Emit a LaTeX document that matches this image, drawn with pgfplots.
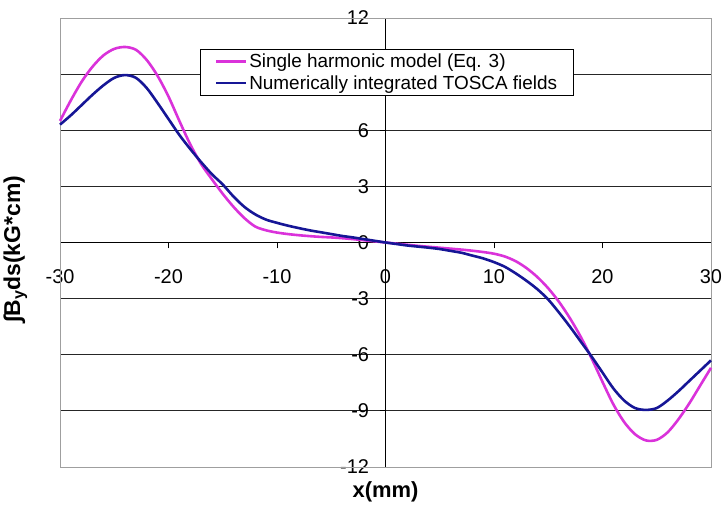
\documentclass[border=0pt]{standalone}
\usepackage{fontspec}
\setmainfont{Liberation Sans}
\usepackage{pgfplots}
\pgfplotsset{compat=1.18}
\definecolor{harm}{RGB}{218,50,218}
\definecolor{tosca}{RGB}{22,22,150}
\begin{document}
\begin{tikzpicture}
\begin{axis}[
 scale only axis, width=651bp, height=449bp,
 xmin=-30, xmax=30, ymin=-12, ymax=12,
 axis lines=middle,
 axis line style={-, black, line width=0.8bp},
 clip=false,
 xtick={-30,-20,...,30}, xticklabels={-30,-20,-10,0,10,20,30},
 ytick={-12,-9,...,12}, yticklabels={-12,-9,-6,-3,0,3,6,,12},
 hide obscured x ticks=false, hide obscured y ticks=false,
 tick align=outside, major tick length=6bp,
 tick style={black, line width=0.8bp},
 ymajorgrids, grid style={black!85, line width=0.8bp},
 ticklabel style={font=\fontsize{20}{22}\selectfont},
 xticklabel style={yshift=-18bp},
 yticklabel style={xshift=-7bp},
 xlabel={x(mm)}, ylabel={∫B\textsubscript{y}ds(kG*cm)},
 every axis x label/.style={at={(rel axis cs:0.5,0)}, anchor=north, yshift=-11bp, font=\bfseries\fontsize{22}{24}\selectfont},
 every axis y label/.style={at={(rel axis cs:-0.045,0.485)}, rotate=90, anchor=south, font=\bfseries\fontsize{23}{25}\selectfont},
 legend style={at={(rel axis cs:0.215,0.931)}, anchor=north west, draw=black, fill=white, font=\fontsize{19}{21}\selectfont, inner xsep=15bp, inner ysep=3.5bp, row sep=3bp, column sep=0bp, nodes={inner sep=1.5bp}},
 legend cell align=left,
 legend image code/.code={\draw[#1] (0bp,0bp) -- (30bp,0bp);},
 legend image post style={line width=2.6bp},
]
\draw[gray!75, line width=0.8bp] (rel axis cs:0,0) rectangle (rel axis cs:1,1);
\path (rel axis cs:-0.0922,-0.0913) rectangle (rel axis cs:1.0246,1.0401);
\addplot[harm, line width=2.6bp, smooth, line join=round] coordinates {
(-30,6.5)(-29,7.6)(-28,8.6)(-27,9.4)(-26,10.0)(-25,10.35)(-24,10.45)(-23,10.3)(-22,9.75)(-21,8.9)(-20,7.8)(-19,6.5)(-18,5.25)(-17,4.2)(-16,3.38)(-15,2.6)(-14,1.9)(-13,1.3)(-12,0.85)(-11,0.65)(-10,0.53)(-9,0.45)(-8,0.39)(-7,0.34)(-6,0.3)(-5,0.27)(-4,0.23)(-3,0.18)(-2,0.12)(-1,0.06)(0,0)(1,-0.06)(2,-0.12)(3,-0.18)(4,-0.23)(5,-0.28)(6,-0.33)(7,-0.38)(8,-0.44)(9,-0.51)(10,-0.6)(11,-0.75)(12,-1.0)(13,-1.37)(14,-1.85)(15,-2.45)(16,-3.18)(17,-4.05)(18,-5.05)(19,-6.2)(20,-7.45)(21,-8.65)(22,-9.6)(23,-10.25)(24,-10.58)(25,-10.55)(26,-10.15)(27,-9.45)(28,-8.6)(29,-7.65)(30,-6.7)
};
\addlegendentry{Single harmonic model (Eq. 3)}
\addplot[tosca, line width=2.6bp, smooth, line join=round] coordinates {
(-30,6.3)(-29,6.8)(-28,7.35)(-27,7.9)(-26,8.4)(-25,8.8)(-24,8.95)(-23,8.8)(-22,8.25)(-21,7.45)(-20,6.6)(-19,5.75)(-18,5.0)(-17,4.3)(-16,3.65)(-15,3.1)(-14,2.45)(-13,1.9)(-12,1.5)(-11,1.22)(-10,1.05)(-9,0.9)(-8,0.77)(-7,0.65)(-6,0.55)(-5,0.45)(-4,0.35)(-3,0.27)(-2,0.18)(-1,0.09)(0,0)(1,-0.08)(2,-0.16)(3,-0.22)(4,-0.28)(5,-0.35)(6,-0.45)(7,-0.55)(8,-0.7)(9,-0.85)(10,-1.05)(11,-1.3)(12,-1.65)(13,-2.05)(14,-2.5)(15,-3.05)(16,-3.75)(17,-4.5)(18,-5.3)(19,-6.1)(20,-6.95)(21,-7.8)(22,-8.45)(23,-8.85)(24,-8.95)(25,-8.85)(26,-8.45)(27,-7.95)(28,-7.4)(29,-6.85)(30,-6.3)
};
\addlegendentry{Numerically integrated TOSCA fields}
\end{axis}
\end{tikzpicture}
\end{document}
